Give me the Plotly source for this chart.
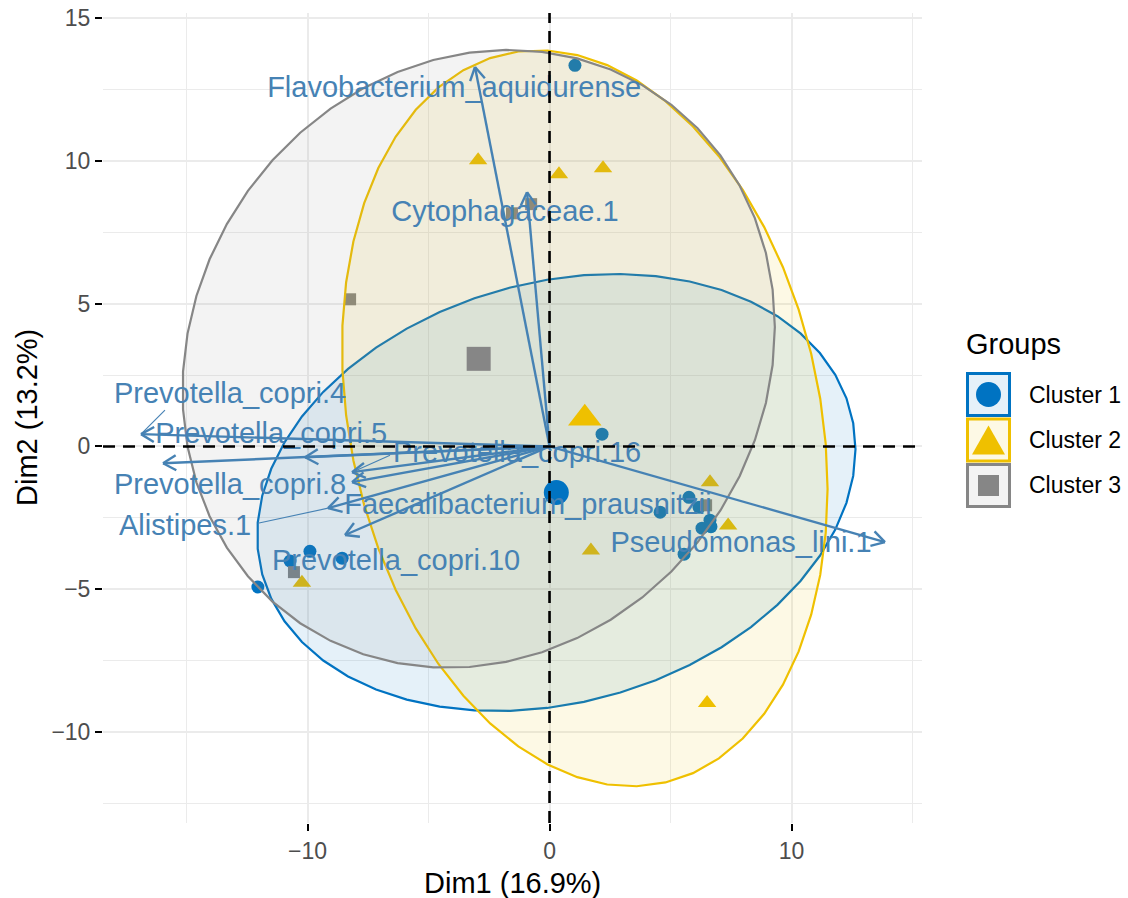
import numpy as np
import plotly.graph_objects as go

# ---------------- data ----------------
# individual scores on the first two principal dimensions, by cluster
c1_dim1 = [1.05, 2.17, 5.76, 6.18, 4.57, 6.63, 6.30, 6.67, 5.56, -9.90, -10.72, -8.57, -12.05]
c1_dim2 = [13.34, 0.43, -1.78, -2.13, -2.30, -2.58, -2.86, -2.81, -3.77, -3.67, -4.01, -3.91, -4.92]

c2_dim1 = [-2.95, 0.39, 2.21, 6.63, 7.38, 1.71, -10.23, 6.51]
c2_dim2 = [10.02, 9.53, 9.74, -1.25, -2.77, -3.64, -4.77, -8.98]

c3_dim1 = [-8.24, -1.55, -0.76, -10.56, 6.47]
c3_dim2 = [5.15, 8.16, 8.48, -4.40, -2.06]

cluster_names = ["Cluster 1", "Cluster 2", "Cluster 3"]

# variable loadings (arrow tips)
var_names = ["Flavobacterium_aquidurense", "Cytophagaceae.1", "Pseudomonas_lini.1",
             "Prevotella_copri.4", "Prevotella_copri.8", "Prevotella_copri.5",
             "Prevotella_copri.16", "Faecalibacterium_prausnitzii", "Alistipes.1",
             "Prevotella_copri.10"]
var_dim1 = [-3.08, -0.93, 13.86, -16.88, -15.97, -10.10, -8.16, -8.16, -9.15, -8.45]
var_dim2 = [13.28, 8.90, -3.35, 0.43, -0.59, -0.38, -0.90, -1.25, -2.16, -3.10]

x_title = "Dim1 (16.9%)"
y_title = "Dim2 (13.2%)"
legend_title = "Groups"

# ---------------- layout / style ----------------
W, H = 1128, 898
PX0, PX1, PY0, PY1 = 103, 922, 13, 823      # panel edges in pixels
XR = [-18.45, 15.39]
YR = [-13.18, 15.17]
SX = (PX1 - PX0) / (XR[1] - XR[0])          # px per unit
SY = (PY1 - PY0) / (YR[1] - YR[0])

FONT = "Liberation Sans, Arial, Helvetica, sans-serif"
COLS = ["#0073C2", "#EFC000", "#868686"]
FILLS = ["rgba(0,115,194,0.1)", "rgba(239,192,0,0.1)", "rgba(134,134,134,0.1)"]
SYMS = ["circle", "triangle-up", "square"]
PT_SIZE = [13, 16, 12]
CENT_SIZE = [25, 29, 24]
ARROW_COL = "#4682B4"
ELLIPSE_LEVEL = 0.7

# label placement (repelled positions) and leader segments
label_pos = {
    "Flavobacterium_aquidurense": (-3.94, 12.50),
    "Cytophagaceae.1": (-1.84, 8.16),
    "Pseudomonas_lini.1": (7.91, -3.45),
    "Prevotella_copri.4": (-13.2, 1.79),
    "Prevotella_copri.8": (-13.2, -1.42),
    "Prevotella_copri.5": (-11.5, 0.39),
    "Prevotella_copri.16": (-1.34, -0.30),
    "Faecalibacterium_prausnitzii": (-0.89, -2.12),
    "Alistipes.1": (-15.06, -2.83),
    "Prevotella_copri.10": (-6.34, -4.08),
}
leader_start = {
    "Prevotella_copri.4": (-15.89, 1.27),
    "Prevotella_copri.16": (-6.59, -0.31),
    "Alistipes.1": (-12.05, -2.69),
}


def norm_ellipse(x, y, level, segments=51):
    """Normal-theory data ellipse (as in ggplot2 stat_ellipse type='norm')."""
    pts = np.column_stack([x, y])
    n = len(pts)
    center = pts.mean(axis=0)
    shape = np.cov(pts, rowvar=False)
    dfd = n - 1
    # quantile of F(2, dfd) in closed form
    fq = (dfd / 2.0) * ((1 - level) ** (-2.0 / dfd) - 1)
    radius = np.sqrt(2 * fq)
    ang = np.linspace(0, 2 * np.pi, segments + 1)
    unit = np.column_stack([np.cos(ang), np.sin(ang)])
    chol = np.linalg.cholesky(shape).T
    ell = center + radius * (unit @ chol)
    return ell[:, 0], ell[:, 1]


fig = go.Figure()

groups = [(c1_dim1, c1_dim2), (c2_dim1, c2_dim2), (c3_dim1, c3_dim2)]

# individual points
for (gx, gy), col, sym, sz in zip(groups, COLS, SYMS, PT_SIZE):
    fig.add_trace(go.Scatter(x=gx, y=gy, mode="markers",
                             marker=dict(color=col, symbol=sym, size=sz, line=dict(width=0)),
                             hoverinfo="skip", showlegend=False))

# concentration ellipses
for (gx, gy), col, fc in zip(groups, COLS, FILLS):
    ex, ey = norm_ellipse(gx, gy, ELLIPSE_LEVEL)
    fig.add_trace(go.Scatter(x=ex, y=ey, mode="lines", fill="toself", fillcolor=fc,
                             line=dict(color=col, width=2.2), hoverinfo="skip",
                             showlegend=False))

# cluster centroids
for (gx, gy), col, sym, sz in zip(groups, COLS, SYMS, CENT_SIZE):
    fig.add_trace(go.Scatter(x=[np.mean(gx)], y=[np.mean(gy)], mode="markers",
                             marker=dict(color=col, symbol=sym, size=sz, line=dict(width=0)),
                             hoverinfo="skip", showlegend=False))

# variable arrows with open heads
shaft_x, shaft_y, head_x, head_y = [], [], [], []
HEAD_LEN = 15.0
HEAD_ANG = np.radians(30)
for vx, vy in zip(var_dim1, var_dim2):
    shaft_x += [0, vx, None]
    shaft_y += [0, vy, None]
    theta = np.arctan2(vy * SY, vx * SX)
    for s in (1, -1):
        a = theta + s * HEAD_ANG
        hx = vx - HEAD_LEN * np.cos(a) / SX
        hy = vy - HEAD_LEN * np.sin(a) / SY
        head_x += [hx, vx, None]
        head_y += [hy, vy, None]
fig.add_trace(go.Scatter(x=shaft_x, y=shaft_y, mode="lines",
                         line=dict(color=ARROW_COL, width=2.4), hoverinfo="skip",
                         showlegend=False))
fig.add_trace(go.Scatter(x=head_x, y=head_y, mode="lines",
                         line=dict(color=ARROW_COL, width=2.4), hoverinfo="skip",
                         showlegend=False))

# leader segments from labels to arrow tips
seg_x, seg_y = [], []
for name, (sx0, sy0) in leader_start.items():
    i = var_names.index(name)
    seg_x += [sx0, var_dim1[i], None]
    seg_y += [sy0, var_dim2[i], None]
fig.add_trace(go.Scatter(x=seg_x, y=seg_y, mode="lines",
                         line=dict(color=ARROW_COL, width=1.1), hoverinfo="skip",
                         showlegend=False))

# variable labels
fig.add_trace(go.Scatter(
    x=[label_pos[n][0] for n in var_names],
    y=[label_pos[n][1] for n in var_names],
    text=var_names, mode="text", textposition="middle center",
    textfont=dict(family=FONT, size=29, color=ARROW_COL),
    hoverinfo="skip", showlegend=False))


def pxx(px):
    return (px - PX0) / (PX1 - PX0)


def pxy(py):
    return (PY1 - py) / (PY1 - PY0)


shapes = [
    dict(type="line", xref="x", yref="paper", x0=0, x1=0, y0=0, y1=1,
         line=dict(color="black", width=2.6, dash="12px,8px"), layer="above"),
    dict(type="line", xref="paper", yref="y", x0=0, x1=1, y0=0, y1=0,
         line=dict(color="black", width=2.6, dash="12px,8px"), layer="above"),
]

# legend keys
annotations = []
KEY_L, KEY_R = 966, 1011
row_tops = [372, 417.5, 463]
KEY_H = 45
for i, (col, fc, name) in enumerate(zip(COLS, FILLS, cluster_names)):
    t = row_tops[i]
    cy = t + KEY_H / 2
    cx = (KEY_L + KEY_R) / 2
    shapes.append(dict(type="rect", xref="paper", yref="paper",
                       x0=pxx(KEY_L + 1.5), x1=pxx(KEY_R - 1.5),
                       y0=pxy(t + KEY_H - 1.5), y1=pxy(t + 1.5),
                       fillcolor=fc, line=dict(color=col, width=3), layer="above"))
    if i == 0:
        r = 12.5
        shapes.append(dict(type="circle", xref="paper", yref="paper",
                           x0=pxx(cx - r), x1=pxx(cx + r), y0=pxy(cy + r), y1=pxy(cy - r),
                           fillcolor=col, line=dict(width=0), layer="above"))
    elif i == 1:
        hw, h = 16.5, 29
        p = (f"M {pxx(cx - hw)} {pxy(cy + h / 2)} L {pxx(cx + hw)} {pxy(cy + h / 2)} "
             f"L {pxx(cx)} {pxy(cy - h / 2)} Z")
        shapes.append(dict(type="path", xref="paper", yref="paper", path=p,
                           fillcolor=col, line=dict(width=0), layer="above"))
    else:
        hs = 10.5
        shapes.append(dict(type="rect", xref="paper", yref="paper",
                           x0=pxx(cx - hs), x1=pxx(cx + hs), y0=pxy(cy + hs), y1=pxy(cy - hs),
                           fillcolor=col, line=dict(width=0), layer="above"))
    annotations.append(dict(text=name, xref="paper", yref="paper", x=pxx(1027), y=pxy(cy),
                            xanchor="left", yanchor="middle", showarrow=False,
                            font=dict(family=FONT, size=23, color="black")))

annotations.append(dict(text=legend_title, xref="paper", yref="paper", x=pxx(964), y=pxy(344),
                        xanchor="left", yanchor="middle", showarrow=False,
                        font=dict(family=FONT, size=29, color="black")))
annotations.append(dict(text=x_title, xref="paper", yref="paper", x=pxx(512.5), y=pxy(883),
                        xanchor="center", yanchor="middle", showarrow=False,
                        font=dict(family=FONT, size=29, color="black")))
annotations.append(dict(text=y_title, xref="paper", yref="paper", x=pxx(27), y=pxy(418),
                        xanchor="center", yanchor="middle", showarrow=False, textangle=-90,
                        font=dict(family=FONT, size=29, color="black")))

GRID = "#EBEBEB"
axis_common = dict(showline=False, zeroline=False, showgrid=True, gridcolor=GRID,
                   gridwidth=1.8, ticks="outside", ticklen=7, tickwidth=2,
                   tickcolor="black",
                   tickfont=dict(family=FONT, size=23, color="#4D4D4D"))

fig.update_layout(
    width=W, height=H,
    margin=dict(l=PX0, r=W - PX1, t=PY0, b=H - PY1, autoexpand=False),
    plot_bgcolor="white", paper_bgcolor="white",
    showlegend=False,
    xaxis=dict(range=XR, tick0=0, dtick=10,
               minor=dict(dtick=5, showgrid=True, gridcolor=GRID, gridwidth=1.1,
                          ticks=""),
               **axis_common),
    yaxis=dict(range=YR, tick0=0, dtick=5,
               minor=dict(dtick=2.5, showgrid=True, gridcolor=GRID, gridwidth=1.1,
                          ticks=""),
               **axis_common),
    shapes=shapes,
    annotations=annotations,
)

fig.write_html("out.html")
